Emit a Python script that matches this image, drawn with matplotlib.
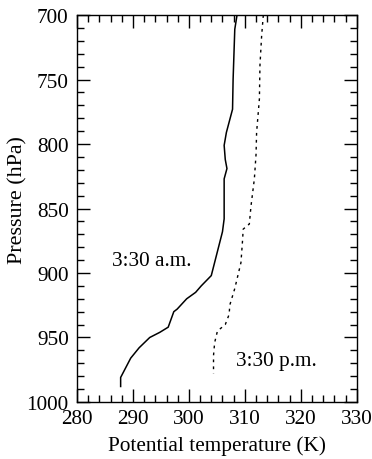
import matplotlib
matplotlib.use("Agg")
import matplotlib.pyplot as plt
from matplotlib.ticker import MultipleLocator

plt.rcParams['font.family'] = ['Liberation Serif', 'DejaVu Serif']

# 3:30 a.m. sounding (solid)
p_am = [700, 711, 750, 773, 791, 801, 812, 819, 827, 858, 868, 902, 910, 915,
        920, 928, 930, 942, 946, 950, 958, 966, 981, 988]
t_am = [308.6, 308.2, 307.9, 307.8, 306.7, 306.3, 306.5, 306.8, 306.3, 306.3, 306.0,
        304.0, 302.2, 301.2, 299.6, 297.9, 297.3, 296.3, 294.8, 293.0, 291.1,
        289.6, 287.8, 287.8]

# 3:30 p.m. sounding (dotted)
p_pm = [700, 716, 739, 765, 791, 808, 827, 848, 862, 866, 874, 892, 912, 925,
        932, 940, 945, 954, 964, 978]
t_pm = [313.3, 313.0, 312.7, 312.6, 312.1, 312.0, 311.7, 311.1, 310.8, 309.7, 309.6,
        309.3, 308.2, 307.3, 307.2, 306.5, 305.1, 304.6, 304.4, 304.4]

FS = 15.3

fig = plt.figure(figsize=(3.72, 4.6), dpi=100)
ax = fig.add_axes([0.207, 0.124, 0.752, 0.841])

ax.plot(t_am, p_am, color='black', linewidth=1.1)
ax.plot(t_pm, p_pm, color='black', linewidth=1.0, linestyle=(0, (2, 3)))

ax.set_xlim(280, 330)
ax.set_ylim(1000, 700)
ax.xaxis.set_major_locator(MultipleLocator(10))
ax.xaxis.set_minor_locator(MultipleLocator(2))
ax.yaxis.set_major_locator(MultipleLocator(50))
ax.yaxis.set_minor_locator(MultipleLocator(10))

ax.tick_params(which='both', direction='in', top=True, right=True,
               labelsize=FS, width=1)
ax.tick_params(which='major', length=9.5)
ax.tick_params(which='minor', length=5)
ax.tick_params(axis='x', which='major', pad=5)
ax.tick_params(axis='y', which='major', pad=6)
for s in ax.spines.values():
    s.set_linewidth(1)

ax.set_xlabel('Potential temperature (K)', fontsize=FS, labelpad=5)
ax.set_ylabel('Pressure (hPa)', fontsize=FS + 0.5)
ax.yaxis.set_label_coords(-0.178, 0.525)

ax.text(286.3, 890, '3:30 a.m.', fontsize=FS, va='center', ha='left')
ax.text(308.5, 968, '3:30 p.m.', fontsize=FS, va='center', ha='left')

fig.savefig('out.png', dpi=100)
